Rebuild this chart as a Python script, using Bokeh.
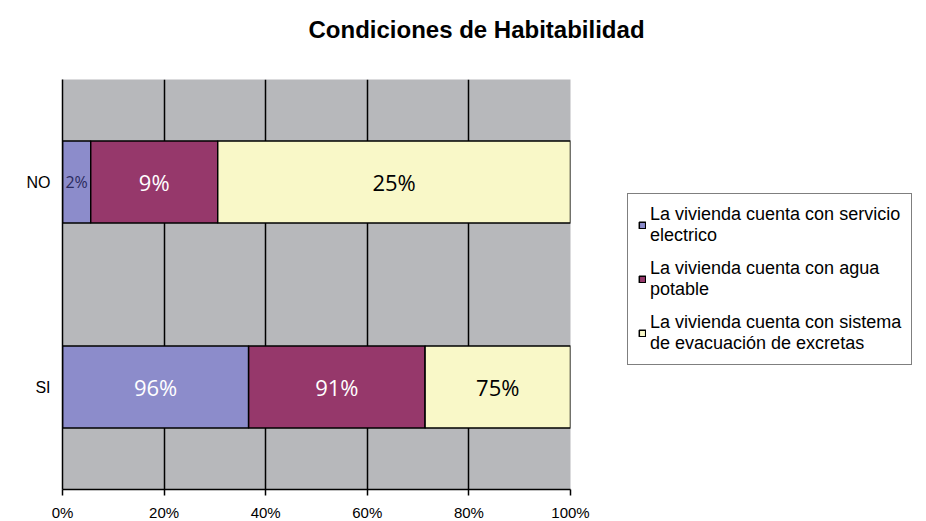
from bokeh.plotting import figure
from bokeh.models import (ColumnDataSource, FactorRange, FixedTicker,
                          NumeralTickFormatter, Legend, LegendItem, Title)
from bokeh.embed import file_html
from bokeh.resources import INLINE
from bokeh.core.properties import value

# ---- data ----
categories = ["SI", "NO"]
electrico = [96, 2]
agua = [91, 9]
excretas = [75, 25]
series_labels = [
    "La vivienda cuenta con servicio\nelectrico",
    "La vivienda cuenta con agua\npotable",
    "La vivienda cuenta con sistema\nde evacuación de excretas",
]
tick_values = [0, 0.2, 0.4, 0.6, 0.8, 1.0]
title_text = "Condiciones de Habitabilidad"

# ---- styles ----
colors = ["#8C8CCB", "#96386B", "#F9F8C8"]
font = "Liberation Sans"
label_font = "Open Sans"

series = [electrico, agua, excretas]
totals = [sum(s[i] for s in series) for i in range(len(categories))]

p = figure(width=None, height=None, frame_width=508, frame_height=410,
           y_range=FactorRange(*categories), x_range=(0, 1),
           output_backend="svg", toolbar_location=None,
           min_border_left=62, min_border_right=0,
           min_border_top=79, min_border_bottom=32,
           background_fill_color="#B7B8BB", border_fill_color="white")

p.title.text = title_text
p.title.text_font = font
p.title.text_font_size = "24px"
p.title.text_font_style = "bold"
p.title.text_color = "black"
p.title.align = "left"
p.title.vertical_align = "bottom"
p.title.offset = 246
p.title.standoff = 0

# spacer between the title and the plot area
p.add_layout(Title(text=" ", text_font_size="2px", standoff=33), "above")

p.xgrid.ticker = FixedTicker(ticks=tick_values)
p.xgrid.grid_line_color = "black"
p.xgrid.grid_line_width = 1.5
p.ygrid.grid_line_color = None
p.outline_line_color = None

renderers = []
lefts = [0.0] * len(categories)
txt_x, txt_y, txt, txt_col, txt_size = [], [], [], [], []
for k, s in enumerate(series):
    frac = [s[i] / totals[i] for i in range(len(categories))]
    rights = [lefts[i] + frac[i] for i in range(len(categories))]
    src = ColumnDataSource(dict(cat=categories, left=list(lefts), right=rights))
    r = p.hbar(y="cat", left="left", right="right", height=0.4, source=src,
               fill_color=colors[k], line_color="black", line_width=1.5)
    renderers.append(r)
    for i, c in enumerate(categories):
        txt_x.append((lefts[i] + rights[i]) / 2)
        txt_y.append(c)
        txt.append(f"{s[i]}%")
        if k == 2:
            txt_col.append("black")
        elif frac[i] < 0.08:
            txt_col.append("#2B2B5E")
        else:
            txt_col.append("white")
        txt_size.append("16px" if frac[i] < 0.08 else "22px")
    lefts = rights

lsrc = ColumnDataSource(dict(x=txt_x, y=txt_y, t=txt, c=txt_col, s=txt_size))
p.text(x="x", y="y", text="t", source=lsrc, text_color="c",
       text_font_size="s", text_font=value(label_font),
       text_align="center", text_baseline="middle")

xa = p.xaxis[0]
xa.ticker = FixedTicker(ticks=tick_values)
xa.formatter = NumeralTickFormatter(format="0%")
xa.major_label_text_font = font
xa.major_label_text_font_size = "15px"
xa.major_label_text_color = "black"
xa.axis_line_color = "black"
xa.axis_line_width = 1.5
xa.major_tick_line_color = "black"
xa.major_tick_line_width = 1.5
xa.major_tick_out = 6
xa.major_tick_in = 0
xa.minor_tick_line_color = None
xa.major_label_standoff = 8

ya = p.yaxis[0]
ya.major_label_text_font = font
ya.major_label_text_font_size = "16px"
ya.major_label_text_color = "black"
ya.axis_line_color = "black"
ya.axis_line_width = 1.5
ya.major_tick_line_color = None
ya.minor_tick_line_color = None
ya.major_label_standoff = 6

legend = Legend(
    items=[LegendItem(label=series_labels[k], renderers=[renderers[k]])
           for k in range(3)],
    location=(57, 124),
    border_line_color="black", border_line_width=1.5,
    background_fill_color="white", background_fill_alpha=1,
    label_text_font=font, label_text_font_size="18px",
    label_text_color="black",
    glyph_width=8, glyph_height=8, label_standoff=4,
    padding=10, spacing=12, margin=0,
)
p.add_layout(legend, "right")

open("out.html", "w").write(file_html(p, INLINE))
